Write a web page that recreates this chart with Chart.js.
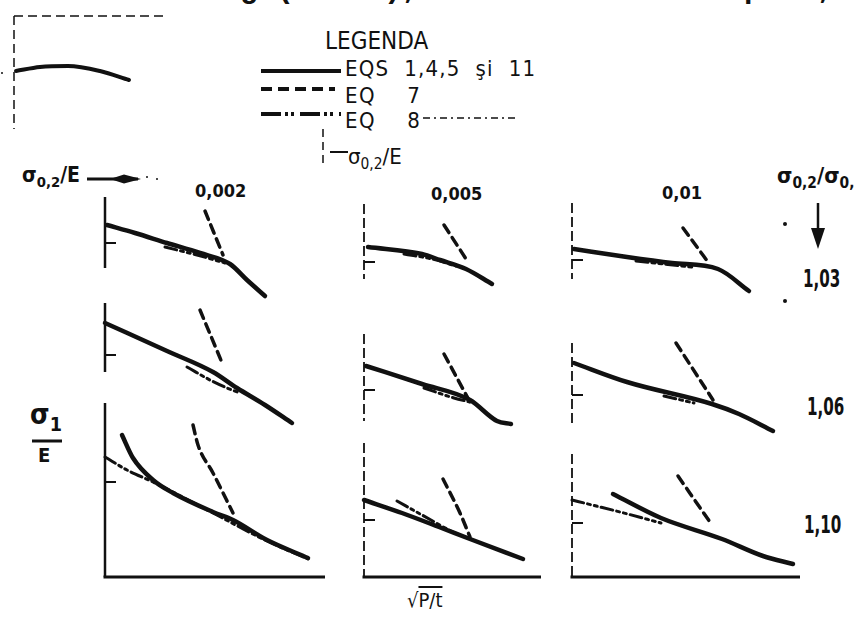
<!DOCTYPE html>
<html>
<head>
<meta charset="utf-8">
<script src="https://cdn.jsdelivr.net/npm/chart.js@4.4.1/dist/chart.umd.min.js"></script>
<style>
  html, body { margin: 0; padding: 0; background: #fff; }
  #page { position: relative; width: 854px; height: 619px; overflow: hidden; background: #fff; color: #111;
          font-family: "DejaVu Sans Condensed", "DejaVu Sans", sans-serif; }
  .t { position: absolute; white-space: pre; line-height: 1; }
  .t sub { font-size: 0.7em; vertical-align: -0.35em; line-height: 0; }
  .b { font-weight: bold; }
  .num { font-weight: bold; transform: scaleX(0.7); transform-origin: left; }
  canvas.panel { position: absolute; }
  svg.deco { position: absolute; left: 0; top: 0; }
</style>
</head>
<body>
<div id="page">
  <!-- running text of the page above the figure -->
  <div class="t b" style="left:150px; top:-25px; font-family:'Liberation Mono',monospace; font-size:30px;">la fig.(4.9.2), se constată că tip 10;</div>

  <!-- legend -->
  <div class="t" style="left:325px; top:29px; font-size:24px;">LEGENDA</div>
  <div class="t" style="left:345px; top:58px; font-size:22px; letter-spacing:1.2px;">EQS  1,4,5  şi  11</div>
  <div class="t" style="left:345px; top:85px; font-size:22px; letter-spacing:1.5px;">EQ    7</div>
  <div class="t" style="left:345px; top:110px; font-size:22px; letter-spacing:1.5px;">EQ    8</div>
  <div class="t" style="left:348px; top:146px; font-size:22px;">σ<sub>0,2</sub>/E</div>

  <!-- axis captions -->
  <div class="t b" style="left:22px; top:165px; font-size:21px;">σ<sub>0,2</sub>/E</div>
  <div class="t b" id="col0" style="left:195px; top:182px; font-size:18px;"></div>
  <div class="t b" id="col1" style="left:431px; top:185px; font-size:18px;"></div>
  <div class="t b" id="col2" style="left:662px; top:184px; font-size:18px;"></div>
  <div class="t b" style="left:777px; top:165px; font-size:22px;">σ<sub>0,2</sub>/σ<sub>0,1</sub></div>
  <div class="t num" id="row0" style="left:803px; top:267px; font-size:24px;"></div>
  <div class="t num" id="row1" style="left:807px; top:395px; font-size:24px;"></div>
  <div class="t num" id="row2" style="left:804px; top:513px; font-size:24px;"></div>
  <div class="t b" style="left:30px; top:401px; font-size:28px; text-align:center; width:32px;">σ<sub>1</sub></div>
  <div class="t b" style="left:38px; top:445px; font-size:20px;">E</div>
  <div class="t" style="left:407px; top:590px; font-size:20px;">√<span style="text-decoration:overline;">P/t</span></div>

  <svg class="deco" width="854" height="619" viewBox="0 0 854 619">
    <g stroke="#111" fill="none" stroke-linecap="butt">
      <!-- legend samples -->
      <line x1="261" y1="71" x2="341" y2="71" stroke-width="4"/>
      <line x1="261" y1="89" x2="335" y2="89" stroke-width="4" stroke-dasharray="11 6"/>
      <line x1="261" y1="114" x2="341" y2="114" stroke-width="4" stroke-dasharray="20 4 3 3 3 6"/>
      <line x1="423" y1="118" x2="518" y2="118" stroke-width="1.5" stroke-dasharray="7 4 2 4"/>
      <line x1="323" y1="129" x2="323" y2="168" stroke-width="1.5" stroke-dasharray="8 5"/>
      <line x1="330" y1="152" x2="348" y2="152" stroke-width="2"/>
      <!-- caption arrows -->
      <line x1="87" y1="179" x2="138" y2="179" stroke-width="3"/>
      <line x1="818" y1="203" x2="818" y2="232" stroke-width="2.5"/>
      <!-- fraction bar -->
      <line x1="32" y1="441" x2="62" y2="441" stroke-width="3"/>
    </g>
    <g fill="#111" stroke="none">
      <polygon points="110,179 124,174.5 141,179 124,183.5"/>
      <polygon points="811,228 825,228 818,249"/>
      <circle cx="147" cy="177" r="1"/>
      <circle cx="157" cy="179" r="1"/>
      <circle cx="785" cy="224" r="2"/>
      <circle cx="785" cy="301" r="2"/>
      <circle cx="2" cy="73" r="1"/>
    </g>
  </svg>
</div>

<script>
// σ0,2/E for each column and σ0,2/σ0,1 for each row of the grid
const columnLabels = ['0,002', '0,005', '0,01'];
const ratioLabels = ['1,03', '1,06', '1,10'];

// Curves of σ1/E against √(P/t), one list of [x, y] pairs per panel, row by row
const eqs = [
  [[0.1, 7.5], [1.5, 6.7], [3.1, 5.7], [4.75, 4.7], [6.25, 3.6], [7.1, 2.0], [8.0, 0.4]],
  [[0.2, 5.3], [2.9, 4.6], [3.8, 4.0], [5.1, 3.1], [6.4, 1.6]],
  [[0.1, 5.1], [2.75, 4.3], [5.0, 3.7], [7.3, 3.1], [8.85, 0.9]],
  [[0.0, 11.7], [3.1, 8.9], [5.4, 6.8], [6.6, 5.2], [8.0, 3.5], [9.35, 1.7]],
  [[0.1, 7.4], [2.9, 5.6], [5.3, 4.0], [6.65, 1.9], [7.35, 1.6]],
  [[0.1, 7.7], [2.75, 5.8], [7.0, 3.6], [8.35, 2.6], [10.05, 0.9]],
  [[0.85, 14.2], [1.4, 11.9], [2.4, 9.7], [3.4, 8.4], [5.4, 6.5], [6.4, 5.7], [8.1, 3.7], [10.15, 1.9]],
  [[0.0, 7.7], [1.9, 6.4], [3.75, 5.0], [5.3, 3.8], [7.95, 1.8]],
  [[2.05, 8.3], [4.45, 5.9], [7.5, 3.8], [9.55, 2.1], [11.05, 1.3]]
];
const eq7 = [
  [[5.0, 8.9], [5.9, 4.5]],
  [[4.0, 7.5], [5.2, 3.8]],
  [[5.55, 7.2], [6.8, 3.8]],
  [[4.75, 13.0], [5.9, 7.5]],
  [[4.0, 8.6], [5.3, 3.8]],
  [[5.2, 9.7], [7.05, 4.0]],
  [[4.4, 15.2], [4.65, 13.2], [5.4, 10.4], [6.4, 6.4]],
  [[3.95, 9.8], [4.8, 6.4], [5.3, 4.0]],
  [[5.3, 10.1], [7.0, 5.2]]
];
const eq8 = [
  [[3.0, 5.3], [4.6, 4.5], [6.0, 3.7]],
  [[2.0, 4.6], [3.4, 4.1], [4.6, 3.4]],
  [[3.2, 3.9], [4.6, 3.6], [6.0, 3.3]],
  [[4.1, 7.3], [5.25, 6.0], [6.1, 5.2], [6.75, 4.7]],
  [[3.0, 5.2], [4.5, 4.2], [5.3, 3.8]],
  [[4.6, 4.4], [6.1, 3.7]],
  [[0.0, 12.0], [1.1, 10.7], [2.4, 9.5], [5.4, 6.4], [8.1, 3.6], [10.15, 1.8]],
  [[1.65, 7.6], [2.9, 6.2], [4.45, 4.5], [5.3, 3.8]],
  [[0.0, 7.7], [1.0, 7.2], [2.4, 6.5], [4.45, 5.4]]
];
// σ0,2/E level marked on each ordinate, and the drawn extent of each ordinate
const sigma02Level = [5.7, 3.8, 4.0, 8.5, 5.0, 4.5, 9.5, 5.7, 5.4];
const axisTop = [10.3, 9.6, 9.7, 13.7, 10.6, 9.7, 17.4, 13.4, 12.3];
const axisBottom = [3.2, 2.1, 2.1, 6.8, 1.9, 1.7, 0, 0, 0];
const abscissaEnd = [11.0, 8.85, 11.4];

// Sketch in the upper left corner: curve under a dashed frame
const insetCurve = [[0.1, 5.9], [1.3, 6.3], [2.7, 6.4], [4.3, 5.9], [5.75, 5.0]];
const insetFrameTop = 11.4;
const insetFrameEnd = 7.7;

const ink = '#111';
const colAxisX = [105, 364, 572];
const rowBase = [300, 440, 577];

columnLabels.forEach((s, i) => document.getElementById('col' + i).textContent = s);
ratioLabels.forEach((s, i) => document.getElementById('row' + i).textContent = s);

const toXY = pts => pts.map(([x, y]) => ({ x, y }));

// Ordinate, σ0,2/E mark and (bottom row) abscissa of each small plot
const frame = {
  id: 'frame',
  beforeDatasetsDraw(chart, args, o) {
    const { ctx, scales: { x, y } } = chart;
    const x0 = x.getPixelForValue(0);
    ctx.save();
    ctx.strokeStyle = ink;
    ctx.lineWidth = o.width;
    ctx.setLineDash(o.dash || []);
    ctx.beginPath();
    ctx.moveTo(x0, y.getPixelForValue(o.top));
    ctx.lineTo(x0, y.getPixelForValue(o.bottom));
    ctx.stroke();
    ctx.setLineDash([]);
    if (o.level != null) {
      ctx.lineWidth = 2;
      ctx.beginPath();
      ctx.moveTo(x0, y.getPixelForValue(o.level));
      ctx.lineTo(x.getPixelForValue(0.55), y.getPixelForValue(o.level));
      ctx.stroke();
    }
    if (o.baseEnd) {
      ctx.lineWidth = 3;
      ctx.beginPath();
      ctx.moveTo(x0 - 1.5, y.getPixelForValue(0));
      ctx.lineTo(x.getPixelForValue(o.baseEnd), y.getPixelForValue(0));
      ctx.stroke();
    }
    if (o.topLine) {
      ctx.lineWidth = 1.5;
      ctx.setLineDash([9, 5]);
      ctx.beginPath();
      ctx.moveTo(x0, y.getPixelForValue(o.top));
      ctx.lineTo(x.getPixelForValue(o.topLine), y.getPixelForValue(o.top));
      ctx.stroke();
    }
    ctx.restore();
  }
};

const baseOptions = (xMax, yMax, frameOpts) => ({
  responsive: false,
  animation: false,
  devicePixelRatio: 1,
  layout: { padding: 10 },
  elements: {
    point: { radius: 0 },
    line: { fill: false, borderCapStyle: 'round', borderJoinStyle: 'round', cubicInterpolationMode: 'monotone' }
  },
  scales: {
    x: { type: 'linear', min: 0, max: xMax, display: false },
    y: { type: 'linear', min: 0, max: yMax, display: false }
  },
  plugins: { legend: { display: false }, tooltip: { enabled: false }, frame: frameOpts }
});

const page = document.getElementById('page');

for (let i = 0; i < 9; i++) {
  const r = Math.floor(i / 3), c = i % 3;
  const cv = document.createElement('canvas');
  cv.className = 'panel';
  cv.width = 260; cv.height = 200;
  cv.style.left = (colAxisX[c] - 10) + 'px';
  cv.style.top = (rowBase[r] - 190) + 'px';
  page.appendChild(cv);
  new Chart(cv, {
    type: 'line',
    data: {
      datasets: [
        { label: 'EQ 8', data: toXY(eq8[i]), borderColor: ink, borderWidth: 3, borderDash: [12, 4, 3, 4, 3, 4], clip: false },
        { label: 'EQ 7', data: toXY(eq7[i]), borderColor: ink, borderWidth: 3.5, borderDash: [9, 6], clip: false },
        { label: 'EQS 1,4,5 şi 11', data: toXY(eqs[i]), borderColor: ink, borderWidth: 4.5, clip: false }
      ]
    },
    options: baseOptions(12, 18, {
      top: axisTop[i], bottom: axisBottom[i], level: sigma02Level[i],
      baseEnd: r === 2 ? abscissaEnd[c] : 0,
      width: c === 0 ? 2.5 : 1.8, dash: c === 0 ? [] : [10, 4]
    }),
    plugins: [frame]
  });
}

// corner sketch
const ic = document.createElement('canvas');
ic.className = 'panel';
ic.width = 180; ic.height = 140;
ic.style.left = '4px'; ic.style.top = '0px';
page.appendChild(ic);
new Chart(ic, {
  type: 'line',
  data: { datasets: [{ data: toXY(insetCurve), borderColor: ink, borderWidth: 4, clip: false }] },
  options: baseOptions(8, 12, { top: insetFrameTop, bottom: 0.1, width: 1.5, dash: [9, 5], topLine: insetFrameEnd }),
  plugins: [frame]
});
</script>
</body>
</html>
